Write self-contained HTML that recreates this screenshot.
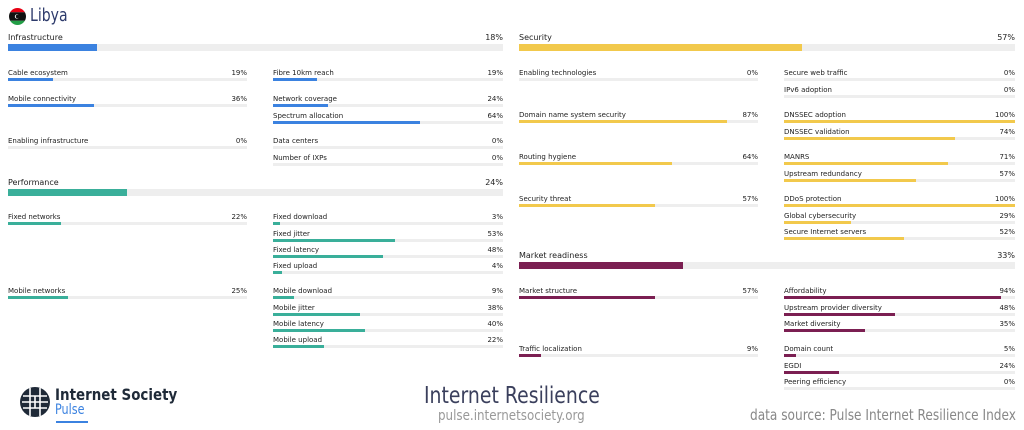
<!DOCTYPE html>
<html><head><meta charset="utf-8"><style>
body{margin:0;width:1024px;height:430px;background:#fff;position:relative;overflow:hidden;font-family:"DejaVu Sans","Liberation Sans",sans-serif;color:#222}
.r{position:absolute;height:15px;font-size:7px;line-height:10px}
.r .v{position:absolute;right:0;top:0}
.r .t{position:absolute;left:0;right:0;top:10px;height:3px;background:#eee}
.r .f{height:3px}
.h{position:absolute;height:21px;font-size:8px;line-height:12px}
.h .v{position:absolute;right:0;top:0}
.h .t{position:absolute;left:0;right:0;top:13px;height:7px;background:#eee}
.h .f{height:7px}
.b .f{background:#3b82e0}.g .f{background:#3aaf9a}.y .f{background:#f2c94c}.m .f{background:#7b1f52}
.sx{position:absolute;transform-origin:0 0;white-space:nowrap}
</style></head><body>
<svg style="position:absolute;left:9px;top:8px" width="17" height="17" viewBox="0 0 16 16"><clipPath id="c"><circle cx="8" cy="8" r="8"/></clipPath><g clip-path="url(#c)"><rect width="16" height="4" fill="#e70013"/><rect y="4" width="16" height="8" fill="#111"/><rect y="12" width="16" height="4" fill="#239e46"/><circle cx="7.5" cy="8" r="2" fill="#fff"/><circle cx="8" cy="8" r="1.6" fill="#111"/></g></svg>
<div class="sx" style="left:30px;top:5px;font-size:18px;color:#2d3a6b;transform:scaleX(0.78)">Libya</div>

<div class="h b" style="left:8px;top:32px;width:495px">Infrastructure<span class="v">18%</span><div class="t" style="top:12px"><div class="f" style="width:18%"></div></div></div>
<div class="r b" style="left:8px;top:68px;width:239px">Cable ecosystem<span class="v">19%</span><div class="t"><div class="f" style="width:19%"></div></div></div>
<div class="r b" style="left:273px;top:68px;width:230px">Fibre 10km reach<span class="v">19%</span><div class="t"><div class="f" style="width:19%"></div></div></div>
<div class="r b" style="left:8px;top:94px;width:239px">Mobile connectivity<span class="v">36%</span><div class="t"><div class="f" style="width:36%"></div></div></div>
<div class="r b" style="left:273px;top:94px;width:230px">Network coverage<span class="v">24%</span><div class="t"><div class="f" style="width:24%"></div></div></div>
<div class="r b" style="left:273px;top:111px;width:230px">Spectrum allocation<span class="v">64%</span><div class="t"><div class="f" style="width:64%"></div></div></div>
<div class="r b" style="left:8px;top:136px;width:239px">Enabling infrastructure<span class="v">0%</span><div class="t"><div class="f" style="width:0%"></div></div></div>
<div class="r b" style="left:273px;top:136px;width:230px">Data centers<span class="v">0%</span><div class="t"><div class="f" style="width:0%"></div></div></div>
<div class="r b" style="left:273px;top:153px;width:230px">Number of IXPs<span class="v">0%</span><div class="t"><div class="f" style="width:0%"></div></div></div>

<div class="h g" style="left:8px;top:177px;width:495px">Performance<span class="v">24%</span><div class="t" style="top:12px"><div class="f" style="width:24%"></div></div></div>
<div class="r g" style="left:8px;top:212px;width:239px">Fixed networks<span class="v">22%</span><div class="t"><div class="f" style="width:22%"></div></div></div>
<div class="r g" style="left:273px;top:212px;width:230px">Fixed download<span class="v">3%</span><div class="t"><div class="f" style="width:3%"></div></div></div>
<div class="r g" style="left:273px;top:229px;width:230px">Fixed jitter<span class="v">53%</span><div class="t"><div class="f" style="width:53%"></div></div></div>
<div class="r g" style="left:273px;top:245px;width:230px">Fixed latency<span class="v">48%</span><div class="t"><div class="f" style="width:48%"></div></div></div>
<div class="r g" style="left:273px;top:261px;width:230px">Fixed upload<span class="v">4%</span><div class="t"><div class="f" style="width:4%"></div></div></div>
<div class="r g" style="left:8px;top:286px;width:239px">Mobile networks<span class="v">25%</span><div class="t"><div class="f" style="width:25%"></div></div></div>
<div class="r g" style="left:273px;top:286px;width:230px">Mobile download<span class="v">9%</span><div class="t"><div class="f" style="width:9%"></div></div></div>
<div class="r g" style="left:273px;top:303px;width:230px">Mobile jitter<span class="v">38%</span><div class="t"><div class="f" style="width:38%"></div></div></div>
<div class="r g" style="left:273px;top:319px;width:230px">Mobile latency<span class="v">40%</span><div class="t"><div class="f" style="width:40%"></div></div></div>
<div class="r g" style="left:273px;top:335px;width:230px">Mobile upload<span class="v">22%</span><div class="t"><div class="f" style="width:22%"></div></div></div>

<div class="h y" style="left:519px;top:32px;width:496px">Security<span class="v">57%</span><div class="t" style="top:12px"><div class="f" style="width:57%"></div></div></div>
<div class="r y" style="left:519px;top:68px;width:239px">Enabling technologies<span class="v">0%</span><div class="t"><div class="f" style="width:0%"></div></div></div>
<div class="r y" style="left:784px;top:68px;width:231px">Secure web traffic<span class="v">0%</span><div class="t"><div class="f" style="width:0%"></div></div></div>
<div class="r y" style="left:784px;top:85px;width:231px">IPv6 adoption<span class="v">0%</span><div class="t"><div class="f" style="width:0%"></div></div></div>
<div class="r y" style="left:519px;top:110px;width:239px">Domain name system security<span class="v">87%</span><div class="t"><div class="f" style="width:87%"></div></div></div>
<div class="r y" style="left:784px;top:110px;width:231px">DNSSEC adoption<span class="v">100%</span><div class="t"><div class="f" style="width:100%"></div></div></div>
<div class="r y" style="left:784px;top:127px;width:231px">DNSSEC validation<span class="v">74%</span><div class="t"><div class="f" style="width:74%"></div></div></div>
<div class="r y" style="left:519px;top:152px;width:239px">Routing hygiene<span class="v">64%</span><div class="t"><div class="f" style="width:64%"></div></div></div>
<div class="r y" style="left:784px;top:152px;width:231px">MANRS<span class="v">71%</span><div class="t"><div class="f" style="width:71%"></div></div></div>
<div class="r y" style="left:784px;top:169px;width:231px">Upstream redundancy<span class="v">57%</span><div class="t"><div class="f" style="width:57%"></div></div></div>
<div class="r y" style="left:519px;top:194px;width:239px">Security threat<span class="v">57%</span><div class="t"><div class="f" style="width:57%"></div></div></div>
<div class="r y" style="left:784px;top:194px;width:231px">DDoS protection<span class="v">100%</span><div class="t"><div class="f" style="width:100%"></div></div></div>
<div class="r y" style="left:784px;top:211px;width:231px">Global cybersecurity<span class="v">29%</span><div class="t"><div class="f" style="width:29%"></div></div></div>
<div class="r y" style="left:784px;top:227px;width:231px">Secure Internet servers<span class="v">52%</span><div class="t"><div class="f" style="width:52%"></div></div></div>

<div class="h m" style="left:519px;top:250px;width:496px">Market readiness<span class="v">33%</span><div class="t" style="top:12px"><div class="f" style="width:33%"></div></div></div>
<div class="r m" style="left:519px;top:286px;width:239px">Market structure<span class="v">57%</span><div class="t"><div class="f" style="width:57%"></div></div></div>
<div class="r m" style="left:784px;top:286px;width:231px">Affordability<span class="v">94%</span><div class="t"><div class="f" style="width:94%"></div></div></div>
<div class="r m" style="left:784px;top:303px;width:231px">Upstream provider diversity<span class="v">48%</span><div class="t"><div class="f" style="width:48%"></div></div></div>
<div class="r m" style="left:784px;top:319px;width:231px">Market diversity<span class="v">35%</span><div class="t"><div class="f" style="width:35%"></div></div></div>
<div class="r m" style="left:519px;top:344px;width:239px">Traffic localization<span class="v">9%</span><div class="t"><div class="f" style="width:9%"></div></div></div>
<div class="r m" style="left:784px;top:344px;width:231px">Domain count<span class="v">5%</span><div class="t"><div class="f" style="width:5%"></div></div></div>
<div class="r m" style="left:784px;top:361px;width:231px">EGDI<span class="v">24%</span><div class="t"><div class="f" style="width:24%"></div></div></div>
<div class="r m" style="left:784px;top:377px;width:231px">Peering efficiency<span class="v">0%</span><div class="t"><div class="f" style="width:0%"></div></div></div>

<svg style="position:absolute;left:19px;top:386px" width="32" height="32" viewBox="0 0 32 32"><circle cx="16" cy="16" r="15" fill="#1f2a38"/><g stroke="#fff" stroke-width="1.6" fill="none"><path d="M4 10H28M3 16H29M4 22H28M11 2V30M21 2V30M16 10V22"/></g></svg>
<div class="sx" style="left:55px;top:385px;font-size:16px;font-weight:bold;color:#1f2a38;transform:scaleX(0.84)">Internet Society</div>
<div class="sx" style="left:55px;top:402px;font-size:14px;color:#3b82e0;transform:scaleX(0.8)">Pulse</div>
<div style="position:absolute;left:56px;top:421px;width:32px;height:2px;background:#3b82e0"></div>
<div class="sx" style="left:424px;top:383px;font-size:23px;color:#3a3f5c;transform:scaleX(0.82)">Internet Resilience</div>
<div class="sx" style="left:438px;top:408px;font-size:14px;color:#999;transform:scaleX(0.85)">pulse.internetsociety.org</div>
<div class="sx" style="left:750px;top:406px;font-size:15px;color:#888;transform:scaleX(0.81)">data source: Pulse Internet Resilience Index</div>
</body></html>
